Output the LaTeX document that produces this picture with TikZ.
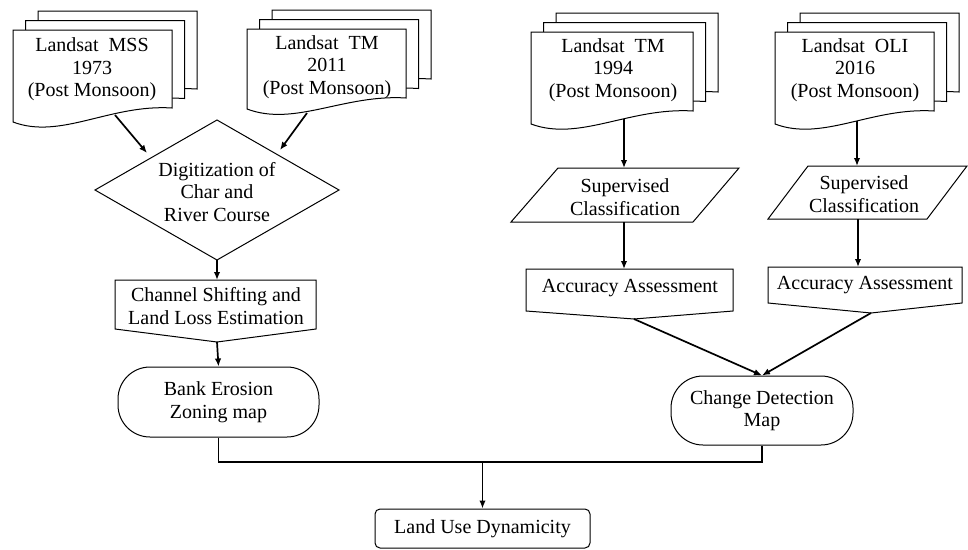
\documentclass[tikz,border=0pt]{standalone}
\usepackage{fontspec}
\setmainfont{Liberation Serif}
\usetikzlibrary{arrows.meta}
% document shape: left, top, right, left-bottom, right-bottom
\newcommand\docpath[5]{\path[shp] (#1,#2) -- (#3,#2) -- (#3,#5) .. controls ({#3-0.39*(#3-#1)},{#5-4}) and ({#1+0.3*(#3-#1)},{#4+18}) .. (#1,#4) -- cycle;}
\newcommand\multidoc[5]{%
  \begin{scope}[shift={(25,-19)}]\docpath{#1}{#2}{#3}{#4}{#5}\end{scope}%
  \begin{scope}[shift={(12.5,-9.5)}]\docpath{#1}{#2}{#3}{#4}{#5}\end{scope}%
  \docpath{#1}{#2}{#3}{#4}{#5}}
\begin{document}
\begin{tikzpicture}[x=1pt,y=-1pt,
  shp/.style={draw=black, line width=1pt, fill=white, line join=miter},
  txt/.style={align=center, font=\fontsize{20}{22.5}\selectfont, inner sep=0pt},
  conn/.style={draw=black, line width=1.7pt, -{Latex[length=8pt,width=6.5pt]}},
  plainline/.style={draw=black, line width=1.7pt},
  term/.style={shp, txt, rounded corners=32pt, minimum width=201pt, minimum height=70pt}]
\useasboundingbox (0,0) rectangle (968,549);

% ---------- input documents ----------
\multidoc{13}{30}{172}{122}{108}
\node[txt] (mss) at (92,69.5) {Landsat\ \ MSS\\1973\\(Post Monsoon)};
\multidoc{247}{29}{406}{109}{98}
\node[txt] (tm11) at (327,67) {Landsat\ \ TM\\2011\\(Post Monsoon)};
\multidoc{531}{32}{693}{124}{111}
\node[txt] (tm94) at (613,70) {Landsat\ \ TM\\1994\\(Post Monsoon)};
\multidoc{775}{32}{934}{124}{111}
\node[txt] (oli) at (855,70) {Landsat\ \ OLI\\2016\\(Post Monsoon)};

% ---------- left branch ----------
\path[shp] (217,120) -- (339,190) -- (217,260) -- (95,190) -- cycle;
\node[txt] (dig) at (217,192) {Digitization of\\Char and\\River Course};

\path[shp] (115,280) -- (316,280) -- (316,329) -- (217,342) -- (115,329) -- cycle;
\node[txt] (ch) at (216,306) {Channel Shifting and\\Land Loss Estimation};

\node[term] (bank) at (218.5,402) {Bank Erosion\\Zoning map};

% ---------- right branch ----------
\path[shp] (558,168) -- (739,168) -- (693,222) -- (511,222) -- cycle;
\node[txt] (sc1) at (625,197) {Supervised\\Classification};
\path[shp] (808,166) -- (967,166) -- (927,219) -- (768,219) -- cycle;
\node[txt] (sc2) at (864,194) {Supervised\\Classification};

\path[shp] (526,269) -- (733,269) -- (733,311) -- (634,319) -- (526,311) -- cycle;
\node[txt] (acc1) at (630,288) {Accuracy Assessment};
\path[shp] (768,267) -- (962,267) -- (962,303) -- (871,313) -- (768,303) -- cycle;
\node[txt] (acc2) at (865,285) {Accuracy Assessment};

\node[term, minimum width=182pt, minimum height=69pt] (cd) at (762,410.5) {Change Detection\\Map};

\node[shp, txt, rounded corners=5pt, minimum width=215pt, minimum height=39pt] (lu) at (482.5,528.5) {Land Use Dynamicity};

% ---------- connector end points ----------
\coordinate (mssout) at (115,115);
\coordinate (digin1) at (147,153);
\coordinate (tm11out) at (307,113);
\coordinate (digin2) at (280,150);
\coordinate (digbot) at (217,260);
\coordinate (chtop) at (217,280);
\coordinate (chpt) at (217,342);
\coordinate (tm94out) at (624,119);
\coordinate (sc1top) at (624,168);
\coordinate (oliout) at (857,121);
\coordinate (sc2top) at (857,166);
\coordinate (sc1bot) at (624,222);
\coordinate (acc1top) at (624,269);
\coordinate (sc2bot) at (858,219);
\coordinate (acc2top) at (858,267);
\coordinate (acc1pt) at (634,319);
\coordinate (acc2pt) at (871,313);
\coordinate (jn) at (482.5,462);

% ---------- connectors ----------
\draw[conn] (mssout) -- (digin1);
\draw[conn] (tm11out) -- (digin2);
\draw[conn] (digbot) -- (chtop);
\draw[conn] (chpt) -- (bank.north);
\draw[conn] (tm94out) -- (sc1top);
\draw[conn] (oliout) -- (sc2top);
\draw[conn] (sc1bot) -- (acc1top);
\draw[conn] (sc2bot) -- (acc2top);
\draw[conn] (acc1pt) -- (cd.north);
\draw[conn] (acc2pt) -- (cd.north);
\draw[plainline] (bank.south) |- (jn) -| (cd.south);
\draw[conn] (jn) -- (lu.north);
\end{tikzpicture}
\end{document}
